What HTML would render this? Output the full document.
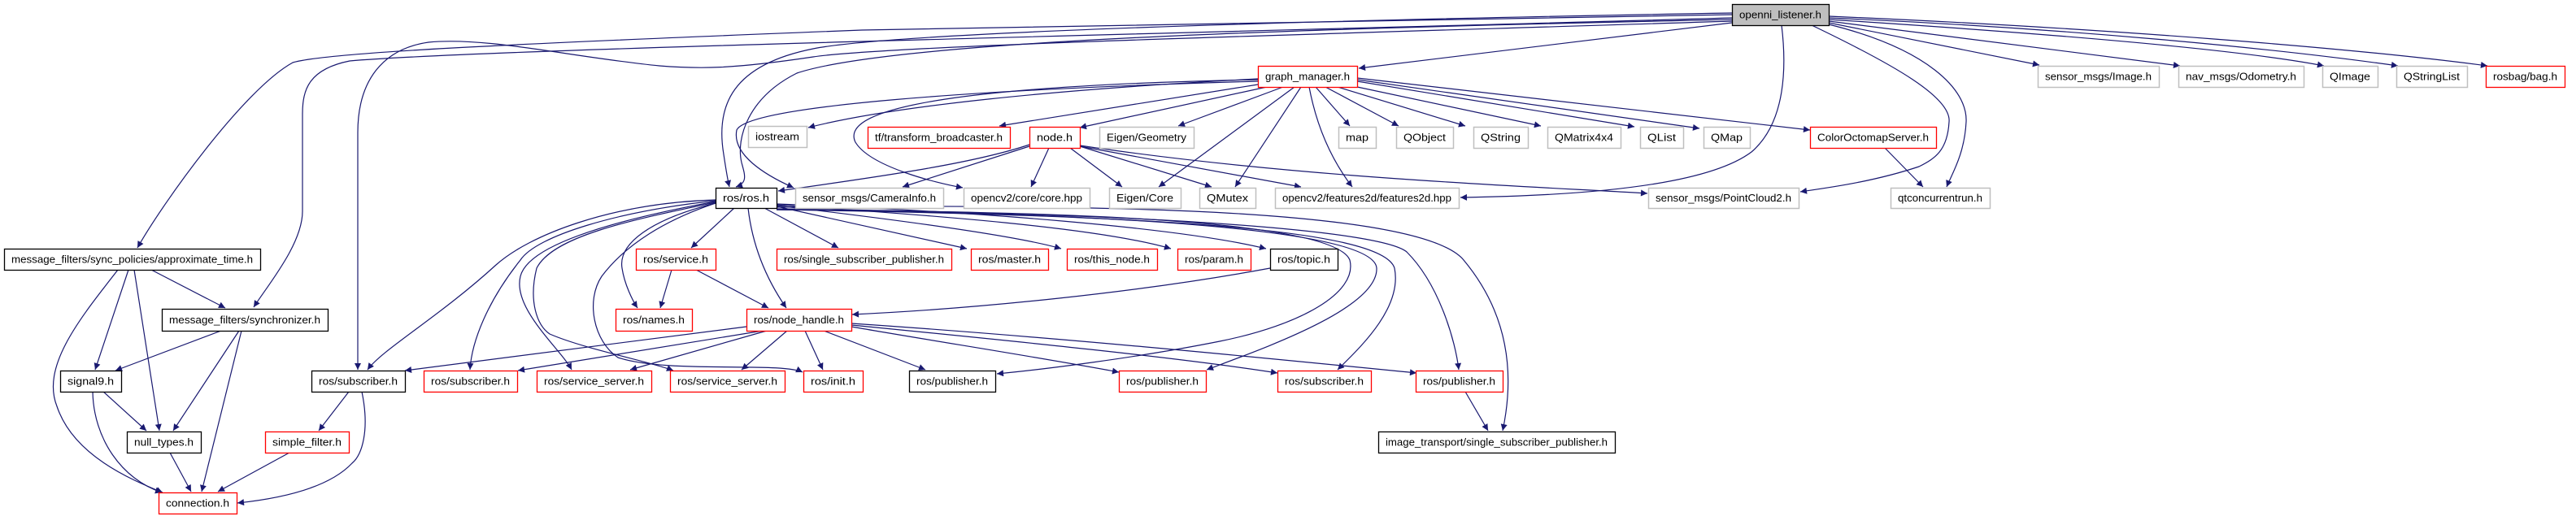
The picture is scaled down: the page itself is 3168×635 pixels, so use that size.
<!DOCTYPE html>
<html><head><meta charset="utf-8"><style>
html,body{margin:0;padding:0;background:#fff;width:3168px;height:635px;overflow:hidden}
svg{display:block}
text{font-family:"Liberation Sans",sans-serif;font-size:13px;fill:#000}
</style></head><body>
<svg id="s" width="3168" height="635" viewBox="0 0 3168 635" xmlns="http://www.w3.org/2000/svg">
<defs><marker id="a" viewBox="0 0 10 10" refX="10" refY="5" markerWidth="10" markerHeight="8" markerUnits="userSpaceOnUse" orient="auto"><path d="M0,0 L10,5 L0,10 z" fill="#191970"/></marker></defs>
<g id="e" fill="none" stroke="#191970" stroke-width="1.2" marker-end="url(#a)"></g>
<g id="n"></g>
</svg>
<script>
var G='#bfbfbf',R='#ff0000',B='#000000';
var N=[
["openni_listener.h",2130,5,2249,31,B,'#bfbfbf'],
["graph_manager.h",1547,81,1669,107,R],
["sensor_msgs/Image.h",2506,81,2655,107,G],
["nav_msgs/Odometry.h",2679,81,2833,107,G],
["QImage",2856,81,2924,107,G],
["QStringList",2947,81,3034,107,G],
["rosbag/bag.h",3057,81,3154,107,R],
["iostream",920,155,992,181,G],
["tf/transform_broadcaster.h",1067,156,1242,182,R],
["node.h",1266,156,1328,182,R],
["Eigen/Geometry",1352,156,1468,182,G],
["map",1646,156,1692,182,G],
["QObject",1717,156,1787,182,G],
["QString",1812,156,1879,182,G],
["QMatrix4x4",1903,156,1993,182,G],
["QList",2017,156,2070,182,G],
["QMap",2095,156,2152,182,G],
["ColorOctomapServer.h",2226,156,2381,182,R],
["ros/ros.h",880,231,955,256,B],
["sensor_msgs/CameraInfo.h",978,231,1160,256,G],
["opencv2/core/core.hpp",1185,231,1340,256,G],
["Eigen/Core",1364,231,1452,256,G],
["QMutex",1475,231,1544,256,G],
["opencv2/features2d/features2d.hpp",1568,231,1794,256,G],
["sensor_msgs/PointCloud2.h",2027,231,2212,256,G],
["qtconcurrentrun.h",2325,231,2447,256,G],
["message_filters/sync_policies/approximate_time.h",5,306,320,332,B],
["ros/service.h",782,306,880,332,R],
["ros/single_subscriber_publisher.h",955,306,1170,332,R],
["ros/master.h",1194,306,1289,332,R],
["ros/this_node.h",1312,306,1423,332,R],
["ros/param.h",1448,306,1538,332,R],
["ros/topic.h",1562,306,1645,332,B],
["message_filters/synchronizer.h",199,380,403,407,B],
["ros/names.h",757,380,851,407,R],
["ros/node_handle.h",918,380,1047,407,R],
["signal9.h",74,456,149,482,B],
["ros/subscriber.h",383,456,498,482,B],
["ros/subscriber.h",521,456,636,482,R],
["ros/service_server.h",660,456,801,482,R],
["ros/service_server.h",824,456,965,482,R],
["ros/init.h",988,456,1061,482,R],
["ros/publisher.h",1118,456,1224,482,B],
["ros/publisher.h",1376,456,1483,482,R],
["ros/subscriber.h",1571,456,1686,482,R],
["ros/publisher.h",1741,456,1848,482,R],
["null_types.h",156,531,247,557,B],
["simple_filter.h",326,531,429,557,R],
["image_transport/single_subscriber_publisher.h",1695,531,1986,557,B],
["connection.h",195,606,291,632,R]
];
var E=[
"M2130,28 L1671,84","M2249,28 L2508,80","M2249,26 L2681,81","M2249,24 C2500,40 2750,60 2858,81","M2249,22 C2550,35 2800,60 2949,81","M2249,20 C2600,35 2900,60 3059,81",
"M2249,30 C2370,60 2420,110 2418,150 C2416,190 2400,215 2394,230",
"M2228,31 C2330,80 2400,120 2397,150 C2395,185 2380,195 2360,205 C2300,225 2240,232 2214,236",
"M2191,31 C2197,80 2197,150 2154,187 C2110,220 2000,240 1796,243",
"M2130,18 L1060,37 C600,55 400,65 360,77 C300,110 200,250 169,305",
"M2130,22 C1500,40 600,60 430,75 C380,85 372,110 372,140 L372,260 C372,300 330,350 312,378",
"M2130,26 C1700,40 1100,55 1000,70 C900,85 860,85 811,81 C700,70 600,45 527,52 C470,60 440,100 440,163 L440,455",
"M2130,16 C1600,25 1100,40 1000,60 C900,80 880,130 890,190 C893,210 895,222 897,230",
"M2130,24 C1600,35 1100,50 980,90 C920,120 905,170 912,200 C916,215 920,225 905,230",
"M1547,104 L1229,155","M1558,107 L1328,157","M1578,107 L1449,155","M1618,107 L1660,155","M1630,107 L1720,155","M1645,107 L1802,155","M1655,104 L1895,155","M1669,100 L2010,156","M1669,98 L2090,158","M1669,96 L2226,160",
"M1592,107 L1425,230","M1600,107 L1519,230","M1610,107 C1620,160 1640,200 1663,230",
"M1547,98 C1200,105 1030,130 1052,175 C1070,205 1150,225 1184,231",
"M1547,97 C1300,110 1100,130 994,157",
"M1547,100 C1200,110 920,130 906,160 C900,190 940,215 976,231",
"M2318,182 L2365,230",
"M1266,178 C1200,200 1100,215 957,235","M1266,180 L1110,230","M1290,182 L1268,230","M1316,182 L1380,230","M1328,180 L1490,230","M1328,180 L1600,230","M1328,179 C1600,220 1900,230 2026,238",
"M903,256 L850,305","M880,250 C800,270 760,300 765,330 C768,350 778,370 784,379","M920,256 C925,300 940,340 967,379","M940,256 L1031,305","M955,254 L1189,306","M955,253 C1100,270 1250,290 1305,306","M955,252 C1150,265 1350,280 1440,306","M955,251 C1200,260 1450,280 1557,306",
"M880,246 C750,250 650,290 610,326 C540,390 470,430 452,455",
"M880,247 C760,260 660,290 640,320 C600,370 580,420 578,455",
"M880,248 C760,270 650,300 640,340 C630,380 690,430 703,455",
"M880,249 C780,270 680,290 660,330 C650,370 660,400 676,411 C720,430 800,445 828,456",
"M880,250 C820,270 770,300 740,340 C720,370 730,420 760,440 C820,460 960,445 987,458",
"M955,258 C1300,260 1640,270 1660,320 C1670,360 1600,400 1500,420 C1400,440 1280,455 1226,460",
"M955,258 C1350,262 1690,280 1693,330 C1695,380 1550,430 1484,455",
"M955,258 C1400,265 1700,280 1715,330 C1725,380 1670,430 1645,455",
"M955,257 C1450,263 1700,285 1730,310 C1770,350 1790,420 1794,455",
"M955,255 C1400,250 1750,260 1800,320 C1850,380 1865,450 1848,530",
"M186,332 L277,379","M158,332 L117,455","M165,332 L196,530","M145,332 C100,390 50,450 70,500 C90,560 160,590 200,606",
"M272,407 L142,456","M294,407 L213,530","M297,407 L248,605","M127,482 L180,530","M114,482 C115,540 150,590 199,606","M209,557 L235,605","M356,557 L268,605",
"M429,482 L392,530","M445,482 C455,530 445,560 433,570 C400,605 330,615 292,619",
"M826,332 L812,379","M856,332 L945,379","M1562,330 C1400,360 1200,380 1048,387",
"M918,402 L498,456","M938,407 L637,456","M943,407 L775,455","M968,407 L912,455","M990,407 L1012,455","M1013,407 L1138,455","M1047,402 C1150,420 1280,440 1376,458","M1047,400 C1250,420 1450,440 1571,459","M1047,398 C1300,415 1550,440 1742,459","M1802,482 L1830,530"
];
var ns='http://www.w3.org/2000/svg',eg=document.getElementById('e'),ng=document.getElementById('n');
E.forEach(function(d){var p=document.createElementNS(ns,'path');p.setAttribute('d',d);eg.appendChild(p);});
N.forEach(function(n){var r=document.createElementNS(ns,'rect');r.setAttribute('x',n[1]+0.5);r.setAttribute('y',n[2]+0.5);r.setAttribute('width',n[3]-n[1]);r.setAttribute('height',n[4]-n[2]);r.setAttribute('fill',n[6]||'#fff');r.setAttribute('stroke',n[5]);r.setAttribute('stroke-width',n[5]==G?1.5:1.3);ng.appendChild(r);
var t=document.createElementNS(ns,'text');t.setAttribute('x',(n[1]+n[3])/2);t.setAttribute('y',(n[2]+n[4])/2+4.5);t.setAttribute('text-anchor','middle');t.setAttribute('textLength',n[3]-n[1]-18);t.setAttribute('lengthAdjust','spacingAndGlyphs');t.textContent=n[0];ng.appendChild(t);});
</script>
</body></html>
